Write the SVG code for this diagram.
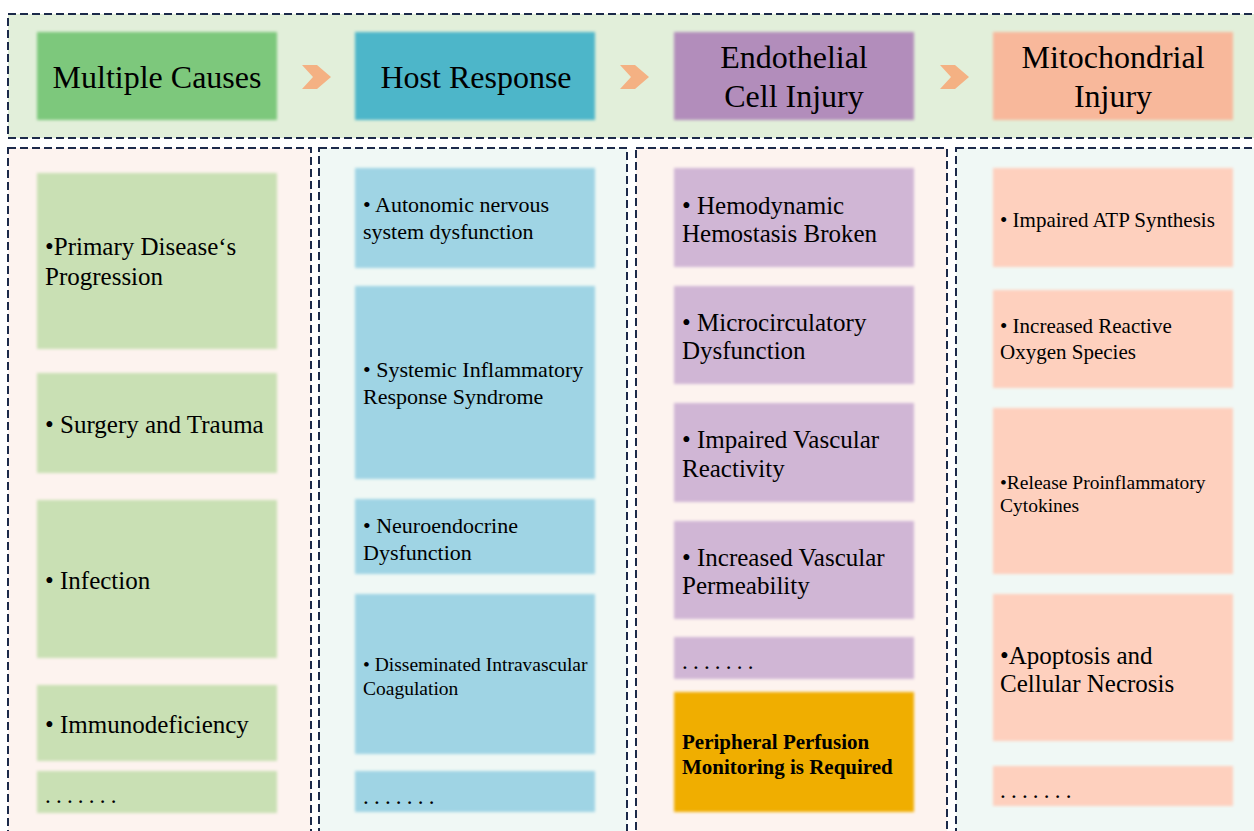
<svg xmlns="http://www.w3.org/2000/svg" width="1254" height="831" viewBox="0 0 1254 831">
  <defs>
    <filter id="soft" x="-5%" y="-5%" width="110%" height="110%">
      <feGaussianBlur stdDeviation="1.4"/>
    </filter>
  </defs>
  <style>
    .frame { stroke: #1c2a4a; stroke-width: 2; stroke-dasharray: 8 4; }
    .band { fill: #e2efda; }
    .warm { fill: #fdf3ef; }
    .cool { fill: #f0f8f5; }
    .box { filter: url(#soft); }
    .g1 { fill: #7dc87b; } .b1 { fill: #4db6c9; } .p1 { fill: #b28dbb; } .s1 { fill: #f8b89b; }
    .g2 { fill: #c9e0b4; } .b2 { fill: #9fd4e4; } .p2 { fill: #d0b6d5; } .s2 { fill: #fed0be; }
    .o2 { fill: #f0ae00; }
    .chev { fill: #f4b183; }
    text { font-family: "Liberation Serif", "Times New Roman", serif; fill: #000; }
    .title { font-size: 32px; text-anchor: middle; }
    .t25 { font-size: 25px; }
    .t22 { font-size: 22px; }
    .t21 { font-size: 21px; }
    .t19 { font-size: 19.5px; }
    .bold { font-size: 21px; font-weight: bold; }
    .dots { font-size: 23px; letter-spacing: 5.2px; }
  </style>

  <!-- header band -->
  <rect class="band frame" x="8" y="14" width="1250" height="124"/>

  <!-- column frames -->
  <rect class="warm frame" x="8" y="148" width="303" height="690"/>
  <rect class="cool frame" x="319" y="148" width="308" height="690"/>
  <rect class="warm frame" x="636" y="148" width="311" height="690"/>
  <rect class="cool frame" x="956" y="148" width="302" height="690"/>

  <!-- stage chevrons -->
  <g id="connectors">
    <polygon class="chev" points="302,65 317,65 331,77 317,89 302,89 313,77"/>
    <polygon class="chev" points="620,65 635,65 649,77 635,89 620,89 631,77"/>
    <polygon class="chev" points="940,65 955,65 969,77 955,89 940,89 951,77"/>
  </g>

  <!-- stage headers -->
  <g id="stage-causes">
    <rect class="box g1" x="37" y="32" width="240" height="88"/>
    <text class="title" x="157" y="88">Multiple Causes</text>
  </g>
  <g id="stage-host">
    <rect class="box b1" x="355" y="32" width="240" height="88"/>
    <text class="title" x="476" y="88">Host Response</text>
  </g>
  <g id="stage-endothelial">
    <rect class="box p1" x="674" y="32" width="240" height="88"/>
    <text class="title" x="794" y="68">Endothelial</text>
    <text class="title" x="794" y="107">Cell Injury</text>
  </g>
  <g id="stage-mitochondrial">
    <rect class="box s1" x="993" y="32" width="240" height="88"/>
    <text class="title" x="1113" y="68">Mitochondrial</text>
    <text class="title" x="1113" y="107">Injury</text>
  </g>

  <!-- causes -->
  <g id="cause-primary">
    <rect class="box g2" x="37" y="173" width="240" height="176"/>
    <text class="t25" x="45" y="255">•Primary Disease‘s</text>
    <text class="t25" x="45" y="285">Progression</text>
  </g>
  <g id="cause-surgery">
    <rect class="box g2" x="37" y="373" width="240" height="100"/>
    <text class="t25" x="45" y="433">• Surgery and Trauma</text>
  </g>
  <g id="cause-infection">
    <rect class="box g2" x="37" y="500" width="240" height="158"/>
    <text class="t25" x="45" y="589">• Infection</text>
  </g>
  <g id="cause-immuno">
    <rect class="box g2" x="37" y="685" width="240" height="76"/>
    <text class="t25" x="45" y="733">• Immunodeficiency</text>
  </g>
  <g id="cause-more">
    <rect class="box g2" x="37" y="771" width="240" height="42"/>
    <text class="dots" x="45" y="803">.......</text>
  </g>

  <!-- host response -->
  <g id="host-autonomic">
    <rect class="box b2" x="355" y="168" width="240" height="100"/>
    <text class="t22" x="363" y="212">• Autonomic nervous</text>
    <text class="t22" x="363" y="239">system dysfunction</text>
  </g>
  <g id="host-sirs">
    <rect class="box b2" x="355" y="286" width="240" height="193"/>
    <text class="t22" x="363" y="377">• Systemic Inflammatory</text>
    <text class="t22" x="363" y="404">Response Syndrome</text>
  </g>
  <g id="host-neuro">
    <rect class="box b2" x="355" y="499" width="240" height="75"/>
    <text class="t22" x="363" y="533">• Neuroendocrine</text>
    <text class="t22" x="363" y="560">Dysfunction</text>
  </g>
  <g id="host-dic">
    <rect class="box b2" x="355" y="594" width="240" height="160"/>
    <text class="t19" x="363" y="671">• Disseminated Intravascular</text>
    <text class="t19" x="363" y="695">Coagulation</text>
  </g>
  <g id="host-more">
    <rect class="box b2" x="355" y="771" width="240" height="41"/>
    <text class="dots" x="363" y="804">.......</text>
  </g>

  <!-- endothelial injury -->
  <g id="endo-hemodynamic">
    <rect class="box p2" x="674" y="168" width="240" height="99"/>
    <text class="t25" x="682" y="214">• Hemodynamic</text>
    <text class="t25" x="682" y="242">Hemostasis Broken</text>
  </g>
  <g id="endo-micro">
    <rect class="box p2" x="674" y="286" width="240" height="98"/>
    <text class="t25" x="682" y="331">• Microcirculatory</text>
    <text class="t25" x="682" y="359">Dysfunction</text>
  </g>
  <g id="endo-reactivity">
    <rect class="box p2" x="674" y="403" width="240" height="99"/>
    <text class="t25" x="682" y="448">• Impaired Vascular</text>
    <text class="t25" x="682" y="477">Reactivity</text>
  </g>
  <g id="endo-permeability">
    <rect class="box p2" x="674" y="521" width="240" height="98"/>
    <text class="t25" x="682" y="566">• Increased Vascular</text>
    <text class="t25" x="682" y="594">Permeability</text>
  </g>
  <g id="endo-more">
    <rect class="box p2" x="674" y="637" width="240" height="42"/>
    <text class="dots" x="682" y="669">.......</text>
  </g>
  <g id="endo-monitoring">
    <rect class="box o2" x="674" y="692" width="240" height="120"/>
    <text class="bold" x="682" y="749">Peripheral Perfusion</text>
    <text class="bold" x="682" y="774">Monitoring is Required</text>
  </g>

  <!-- mitochondrial injury -->
  <g id="mito-atp">
    <rect class="box s2" x="993" y="168" width="240" height="99"/>
    <text class="t21" x="1000" y="227">• Impaired ATP Synthesis</text>
  </g>
  <g id="mito-ros">
    <rect class="box s2" x="993" y="290" width="240" height="98"/>
    <text class="t21" x="1000" y="333">• Increased Reactive</text>
    <text class="t21" x="1000" y="359">Oxygen Species</text>
  </g>
  <g id="mito-cytokines">
    <rect class="box s2" x="993" y="408" width="240" height="166"/>
    <text class="t19" x="1000" y="489">•Release Proinflammatory</text>
    <text class="t19" x="1000" y="512">Cytokines</text>
  </g>
  <g id="mito-apoptosis">
    <rect class="box s2" x="993" y="594" width="240" height="147"/>
    <text class="t25" x="1000" y="664">•Apoptosis and</text>
    <text class="t25" x="1000" y="692">Cellular Necrosis</text>
  </g>
  <g id="mito-more">
    <rect class="box s2" x="993" y="766" width="240" height="40"/>
    <text class="dots" x="1000" y="798">.......</text>
  </g>
</svg>
